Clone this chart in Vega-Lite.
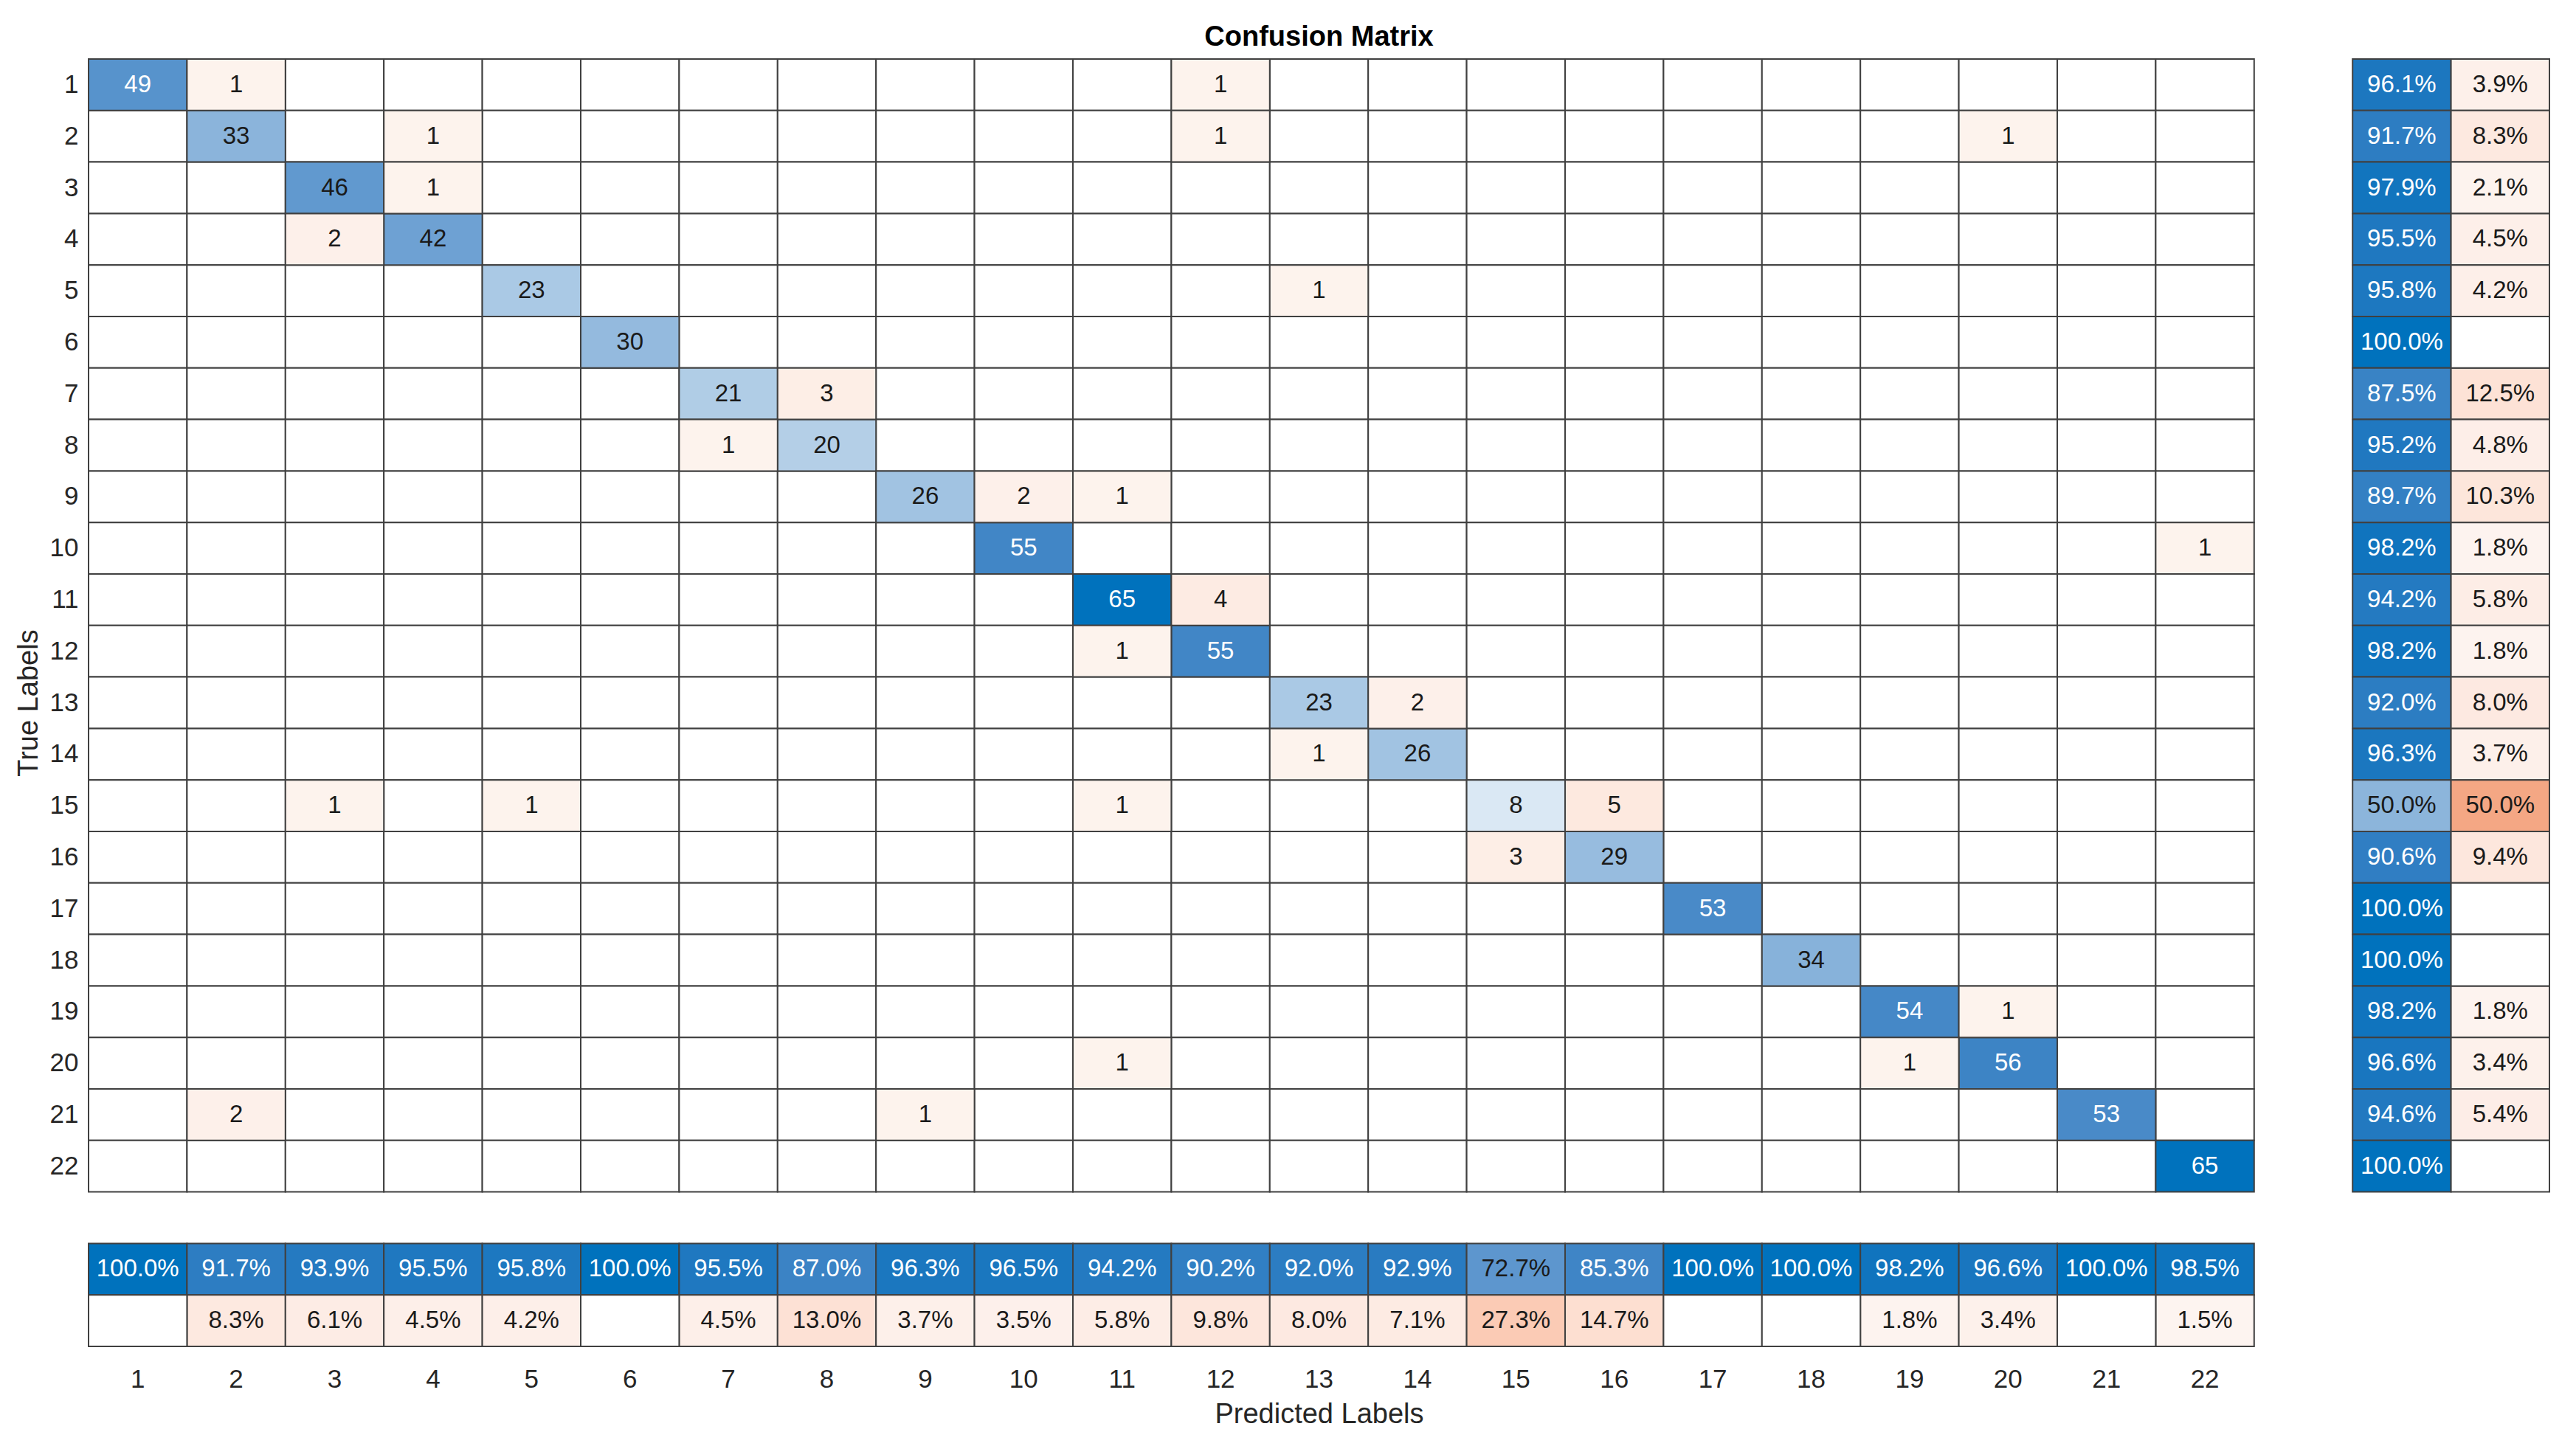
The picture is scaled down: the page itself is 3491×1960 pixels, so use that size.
{
"$schema": "https://vega.github.io/schema/vega-lite/v6.json",
"width": 3335, "height": 1745,
"autosize": {"type": "none"},
"padding": {"left": 120, "top": 80, "right": 36, "bottom": 135},
"background": "#ffffff",
"title": {"text": "Confusion Matrix", "font": "Liberation Sans", "fontSize": 38, "fontWeight": "bold", "color": "#000000", "anchor": "middle", "baseline": "alphabetic", "offset": 19, "dy": 40},
"datasets": {
"cells": [
{"y":"1","x":"1","n":49},{"y":"1","x":"2","n":1},{"y":"1","x":"3","n":0},{"y":"1","x":"4","n":0},{"y":"1","x":"5","n":0},{"y":"1","x":"6","n":0},{"y":"1","x":"7","n":0},{"y":"1","x":"8","n":0},{"y":"1","x":"9","n":0},{"y":"1","x":"10","n":0},{"y":"1","x":"11","n":0},{"y":"1","x":"12","n":1},{"y":"1","x":"13","n":0},{"y":"1","x":"14","n":0},{"y":"1","x":"15","n":0},{"y":"1","x":"16","n":0},{"y":"1","x":"17","n":0},{"y":"1","x":"18","n":0},{"y":"1","x":"19","n":0},{"y":"1","x":"20","n":0},{"y":"1","x":"21","n":0},{"y":"1","x":"22","n":0},
{"y":"2","x":"1","n":0},{"y":"2","x":"2","n":33},{"y":"2","x":"3","n":0},{"y":"2","x":"4","n":1},{"y":"2","x":"5","n":0},{"y":"2","x":"6","n":0},{"y":"2","x":"7","n":0},{"y":"2","x":"8","n":0},{"y":"2","x":"9","n":0},{"y":"2","x":"10","n":0},{"y":"2","x":"11","n":0},{"y":"2","x":"12","n":1},{"y":"2","x":"13","n":0},{"y":"2","x":"14","n":0},{"y":"2","x":"15","n":0},{"y":"2","x":"16","n":0},{"y":"2","x":"17","n":0},{"y":"2","x":"18","n":0},{"y":"2","x":"19","n":0},{"y":"2","x":"20","n":1},{"y":"2","x":"21","n":0},{"y":"2","x":"22","n":0},
{"y":"3","x":"1","n":0},{"y":"3","x":"2","n":0},{"y":"3","x":"3","n":46},{"y":"3","x":"4","n":1},{"y":"3","x":"5","n":0},{"y":"3","x":"6","n":0},{"y":"3","x":"7","n":0},{"y":"3","x":"8","n":0},{"y":"3","x":"9","n":0},{"y":"3","x":"10","n":0},{"y":"3","x":"11","n":0},{"y":"3","x":"12","n":0},{"y":"3","x":"13","n":0},{"y":"3","x":"14","n":0},{"y":"3","x":"15","n":0},{"y":"3","x":"16","n":0},{"y":"3","x":"17","n":0},{"y":"3","x":"18","n":0},{"y":"3","x":"19","n":0},{"y":"3","x":"20","n":0},{"y":"3","x":"21","n":0},{"y":"3","x":"22","n":0},
{"y":"4","x":"1","n":0},{"y":"4","x":"2","n":0},{"y":"4","x":"3","n":2},{"y":"4","x":"4","n":42},{"y":"4","x":"5","n":0},{"y":"4","x":"6","n":0},{"y":"4","x":"7","n":0},{"y":"4","x":"8","n":0},{"y":"4","x":"9","n":0},{"y":"4","x":"10","n":0},{"y":"4","x":"11","n":0},{"y":"4","x":"12","n":0},{"y":"4","x":"13","n":0},{"y":"4","x":"14","n":0},{"y":"4","x":"15","n":0},{"y":"4","x":"16","n":0},{"y":"4","x":"17","n":0},{"y":"4","x":"18","n":0},{"y":"4","x":"19","n":0},{"y":"4","x":"20","n":0},{"y":"4","x":"21","n":0},{"y":"4","x":"22","n":0},
{"y":"5","x":"1","n":0},{"y":"5","x":"2","n":0},{"y":"5","x":"3","n":0},{"y":"5","x":"4","n":0},{"y":"5","x":"5","n":23},{"y":"5","x":"6","n":0},{"y":"5","x":"7","n":0},{"y":"5","x":"8","n":0},{"y":"5","x":"9","n":0},{"y":"5","x":"10","n":0},{"y":"5","x":"11","n":0},{"y":"5","x":"12","n":0},{"y":"5","x":"13","n":1},{"y":"5","x":"14","n":0},{"y":"5","x":"15","n":0},{"y":"5","x":"16","n":0},{"y":"5","x":"17","n":0},{"y":"5","x":"18","n":0},{"y":"5","x":"19","n":0},{"y":"5","x":"20","n":0},{"y":"5","x":"21","n":0},{"y":"5","x":"22","n":0},
{"y":"6","x":"1","n":0},{"y":"6","x":"2","n":0},{"y":"6","x":"3","n":0},{"y":"6","x":"4","n":0},{"y":"6","x":"5","n":0},{"y":"6","x":"6","n":30},{"y":"6","x":"7","n":0},{"y":"6","x":"8","n":0},{"y":"6","x":"9","n":0},{"y":"6","x":"10","n":0},{"y":"6","x":"11","n":0},{"y":"6","x":"12","n":0},{"y":"6","x":"13","n":0},{"y":"6","x":"14","n":0},{"y":"6","x":"15","n":0},{"y":"6","x":"16","n":0},{"y":"6","x":"17","n":0},{"y":"6","x":"18","n":0},{"y":"6","x":"19","n":0},{"y":"6","x":"20","n":0},{"y":"6","x":"21","n":0},{"y":"6","x":"22","n":0},
{"y":"7","x":"1","n":0},{"y":"7","x":"2","n":0},{"y":"7","x":"3","n":0},{"y":"7","x":"4","n":0},{"y":"7","x":"5","n":0},{"y":"7","x":"6","n":0},{"y":"7","x":"7","n":21},{"y":"7","x":"8","n":3},{"y":"7","x":"9","n":0},{"y":"7","x":"10","n":0},{"y":"7","x":"11","n":0},{"y":"7","x":"12","n":0},{"y":"7","x":"13","n":0},{"y":"7","x":"14","n":0},{"y":"7","x":"15","n":0},{"y":"7","x":"16","n":0},{"y":"7","x":"17","n":0},{"y":"7","x":"18","n":0},{"y":"7","x":"19","n":0},{"y":"7","x":"20","n":0},{"y":"7","x":"21","n":0},{"y":"7","x":"22","n":0},
{"y":"8","x":"1","n":0},{"y":"8","x":"2","n":0},{"y":"8","x":"3","n":0},{"y":"8","x":"4","n":0},{"y":"8","x":"5","n":0},{"y":"8","x":"6","n":0},{"y":"8","x":"7","n":1},{"y":"8","x":"8","n":20},{"y":"8","x":"9","n":0},{"y":"8","x":"10","n":0},{"y":"8","x":"11","n":0},{"y":"8","x":"12","n":0},{"y":"8","x":"13","n":0},{"y":"8","x":"14","n":0},{"y":"8","x":"15","n":0},{"y":"8","x":"16","n":0},{"y":"8","x":"17","n":0},{"y":"8","x":"18","n":0},{"y":"8","x":"19","n":0},{"y":"8","x":"20","n":0},{"y":"8","x":"21","n":0},{"y":"8","x":"22","n":0},
{"y":"9","x":"1","n":0},{"y":"9","x":"2","n":0},{"y":"9","x":"3","n":0},{"y":"9","x":"4","n":0},{"y":"9","x":"5","n":0},{"y":"9","x":"6","n":0},{"y":"9","x":"7","n":0},{"y":"9","x":"8","n":0},{"y":"9","x":"9","n":26},{"y":"9","x":"10","n":2},{"y":"9","x":"11","n":1},{"y":"9","x":"12","n":0},{"y":"9","x":"13","n":0},{"y":"9","x":"14","n":0},{"y":"9","x":"15","n":0},{"y":"9","x":"16","n":0},{"y":"9","x":"17","n":0},{"y":"9","x":"18","n":0},{"y":"9","x":"19","n":0},{"y":"9","x":"20","n":0},{"y":"9","x":"21","n":0},{"y":"9","x":"22","n":0},
{"y":"10","x":"1","n":0},{"y":"10","x":"2","n":0},{"y":"10","x":"3","n":0},{"y":"10","x":"4","n":0},{"y":"10","x":"5","n":0},{"y":"10","x":"6","n":0},{"y":"10","x":"7","n":0},{"y":"10","x":"8","n":0},{"y":"10","x":"9","n":0},{"y":"10","x":"10","n":55},{"y":"10","x":"11","n":0},{"y":"10","x":"12","n":0},{"y":"10","x":"13","n":0},{"y":"10","x":"14","n":0},{"y":"10","x":"15","n":0},{"y":"10","x":"16","n":0},{"y":"10","x":"17","n":0},{"y":"10","x":"18","n":0},{"y":"10","x":"19","n":0},{"y":"10","x":"20","n":0},{"y":"10","x":"21","n":0},{"y":"10","x":"22","n":1},
{"y":"11","x":"1","n":0},{"y":"11","x":"2","n":0},{"y":"11","x":"3","n":0},{"y":"11","x":"4","n":0},{"y":"11","x":"5","n":0},{"y":"11","x":"6","n":0},{"y":"11","x":"7","n":0},{"y":"11","x":"8","n":0},{"y":"11","x":"9","n":0},{"y":"11","x":"10","n":0},{"y":"11","x":"11","n":65},{"y":"11","x":"12","n":4},{"y":"11","x":"13","n":0},{"y":"11","x":"14","n":0},{"y":"11","x":"15","n":0},{"y":"11","x":"16","n":0},{"y":"11","x":"17","n":0},{"y":"11","x":"18","n":0},{"y":"11","x":"19","n":0},{"y":"11","x":"20","n":0},{"y":"11","x":"21","n":0},{"y":"11","x":"22","n":0},
{"y":"12","x":"1","n":0},{"y":"12","x":"2","n":0},{"y":"12","x":"3","n":0},{"y":"12","x":"4","n":0},{"y":"12","x":"5","n":0},{"y":"12","x":"6","n":0},{"y":"12","x":"7","n":0},{"y":"12","x":"8","n":0},{"y":"12","x":"9","n":0},{"y":"12","x":"10","n":0},{"y":"12","x":"11","n":1},{"y":"12","x":"12","n":55},{"y":"12","x":"13","n":0},{"y":"12","x":"14","n":0},{"y":"12","x":"15","n":0},{"y":"12","x":"16","n":0},{"y":"12","x":"17","n":0},{"y":"12","x":"18","n":0},{"y":"12","x":"19","n":0},{"y":"12","x":"20","n":0},{"y":"12","x":"21","n":0},{"y":"12","x":"22","n":0},
{"y":"13","x":"1","n":0},{"y":"13","x":"2","n":0},{"y":"13","x":"3","n":0},{"y":"13","x":"4","n":0},{"y":"13","x":"5","n":0},{"y":"13","x":"6","n":0},{"y":"13","x":"7","n":0},{"y":"13","x":"8","n":0},{"y":"13","x":"9","n":0},{"y":"13","x":"10","n":0},{"y":"13","x":"11","n":0},{"y":"13","x":"12","n":0},{"y":"13","x":"13","n":23},{"y":"13","x":"14","n":2},{"y":"13","x":"15","n":0},{"y":"13","x":"16","n":0},{"y":"13","x":"17","n":0},{"y":"13","x":"18","n":0},{"y":"13","x":"19","n":0},{"y":"13","x":"20","n":0},{"y":"13","x":"21","n":0},{"y":"13","x":"22","n":0},
{"y":"14","x":"1","n":0},{"y":"14","x":"2","n":0},{"y":"14","x":"3","n":0},{"y":"14","x":"4","n":0},{"y":"14","x":"5","n":0},{"y":"14","x":"6","n":0},{"y":"14","x":"7","n":0},{"y":"14","x":"8","n":0},{"y":"14","x":"9","n":0},{"y":"14","x":"10","n":0},{"y":"14","x":"11","n":0},{"y":"14","x":"12","n":0},{"y":"14","x":"13","n":1},{"y":"14","x":"14","n":26},{"y":"14","x":"15","n":0},{"y":"14","x":"16","n":0},{"y":"14","x":"17","n":0},{"y":"14","x":"18","n":0},{"y":"14","x":"19","n":0},{"y":"14","x":"20","n":0},{"y":"14","x":"21","n":0},{"y":"14","x":"22","n":0},
{"y":"15","x":"1","n":0},{"y":"15","x":"2","n":0},{"y":"15","x":"3","n":1},{"y":"15","x":"4","n":0},{"y":"15","x":"5","n":1},{"y":"15","x":"6","n":0},{"y":"15","x":"7","n":0},{"y":"15","x":"8","n":0},{"y":"15","x":"9","n":0},{"y":"15","x":"10","n":0},{"y":"15","x":"11","n":1},{"y":"15","x":"12","n":0},{"y":"15","x":"13","n":0},{"y":"15","x":"14","n":0},{"y":"15","x":"15","n":8},{"y":"15","x":"16","n":5},{"y":"15","x":"17","n":0},{"y":"15","x":"18","n":0},{"y":"15","x":"19","n":0},{"y":"15","x":"20","n":0},{"y":"15","x":"21","n":0},{"y":"15","x":"22","n":0},
{"y":"16","x":"1","n":0},{"y":"16","x":"2","n":0},{"y":"16","x":"3","n":0},{"y":"16","x":"4","n":0},{"y":"16","x":"5","n":0},{"y":"16","x":"6","n":0},{"y":"16","x":"7","n":0},{"y":"16","x":"8","n":0},{"y":"16","x":"9","n":0},{"y":"16","x":"10","n":0},{"y":"16","x":"11","n":0},{"y":"16","x":"12","n":0},{"y":"16","x":"13","n":0},{"y":"16","x":"14","n":0},{"y":"16","x":"15","n":3},{"y":"16","x":"16","n":29},{"y":"16","x":"17","n":0},{"y":"16","x":"18","n":0},{"y":"16","x":"19","n":0},{"y":"16","x":"20","n":0},{"y":"16","x":"21","n":0},{"y":"16","x":"22","n":0},
{"y":"17","x":"1","n":0},{"y":"17","x":"2","n":0},{"y":"17","x":"3","n":0},{"y":"17","x":"4","n":0},{"y":"17","x":"5","n":0},{"y":"17","x":"6","n":0},{"y":"17","x":"7","n":0},{"y":"17","x":"8","n":0},{"y":"17","x":"9","n":0},{"y":"17","x":"10","n":0},{"y":"17","x":"11","n":0},{"y":"17","x":"12","n":0},{"y":"17","x":"13","n":0},{"y":"17","x":"14","n":0},{"y":"17","x":"15","n":0},{"y":"17","x":"16","n":0},{"y":"17","x":"17","n":53},{"y":"17","x":"18","n":0},{"y":"17","x":"19","n":0},{"y":"17","x":"20","n":0},{"y":"17","x":"21","n":0},{"y":"17","x":"22","n":0},
{"y":"18","x":"1","n":0},{"y":"18","x":"2","n":0},{"y":"18","x":"3","n":0},{"y":"18","x":"4","n":0},{"y":"18","x":"5","n":0},{"y":"18","x":"6","n":0},{"y":"18","x":"7","n":0},{"y":"18","x":"8","n":0},{"y":"18","x":"9","n":0},{"y":"18","x":"10","n":0},{"y":"18","x":"11","n":0},{"y":"18","x":"12","n":0},{"y":"18","x":"13","n":0},{"y":"18","x":"14","n":0},{"y":"18","x":"15","n":0},{"y":"18","x":"16","n":0},{"y":"18","x":"17","n":0},{"y":"18","x":"18","n":34},{"y":"18","x":"19","n":0},{"y":"18","x":"20","n":0},{"y":"18","x":"21","n":0},{"y":"18","x":"22","n":0},
{"y":"19","x":"1","n":0},{"y":"19","x":"2","n":0},{"y":"19","x":"3","n":0},{"y":"19","x":"4","n":0},{"y":"19","x":"5","n":0},{"y":"19","x":"6","n":0},{"y":"19","x":"7","n":0},{"y":"19","x":"8","n":0},{"y":"19","x":"9","n":0},{"y":"19","x":"10","n":0},{"y":"19","x":"11","n":0},{"y":"19","x":"12","n":0},{"y":"19","x":"13","n":0},{"y":"19","x":"14","n":0},{"y":"19","x":"15","n":0},{"y":"19","x":"16","n":0},{"y":"19","x":"17","n":0},{"y":"19","x":"18","n":0},{"y":"19","x":"19","n":54},{"y":"19","x":"20","n":1},{"y":"19","x":"21","n":0},{"y":"19","x":"22","n":0},
{"y":"20","x":"1","n":0},{"y":"20","x":"2","n":0},{"y":"20","x":"3","n":0},{"y":"20","x":"4","n":0},{"y":"20","x":"5","n":0},{"y":"20","x":"6","n":0},{"y":"20","x":"7","n":0},{"y":"20","x":"8","n":0},{"y":"20","x":"9","n":0},{"y":"20","x":"10","n":0},{"y":"20","x":"11","n":1},{"y":"20","x":"12","n":0},{"y":"20","x":"13","n":0},{"y":"20","x":"14","n":0},{"y":"20","x":"15","n":0},{"y":"20","x":"16","n":0},{"y":"20","x":"17","n":0},{"y":"20","x":"18","n":0},{"y":"20","x":"19","n":1},{"y":"20","x":"20","n":56},{"y":"20","x":"21","n":0},{"y":"20","x":"22","n":0},
{"y":"21","x":"1","n":0},{"y":"21","x":"2","n":2},{"y":"21","x":"3","n":0},{"y":"21","x":"4","n":0},{"y":"21","x":"5","n":0},{"y":"21","x":"6","n":0},{"y":"21","x":"7","n":0},{"y":"21","x":"8","n":0},{"y":"21","x":"9","n":1},{"y":"21","x":"10","n":0},{"y":"21","x":"11","n":0},{"y":"21","x":"12","n":0},{"y":"21","x":"13","n":0},{"y":"21","x":"14","n":0},{"y":"21","x":"15","n":0},{"y":"21","x":"16","n":0},{"y":"21","x":"17","n":0},{"y":"21","x":"18","n":0},{"y":"21","x":"19","n":0},{"y":"21","x":"20","n":0},{"y":"21","x":"21","n":53},{"y":"21","x":"22","n":0},
{"y":"22","x":"1","n":0},{"y":"22","x":"2","n":0},{"y":"22","x":"3","n":0},{"y":"22","x":"4","n":0},{"y":"22","x":"5","n":0},{"y":"22","x":"6","n":0},{"y":"22","x":"7","n":0},{"y":"22","x":"8","n":0},{"y":"22","x":"9","n":0},{"y":"22","x":"10","n":0},{"y":"22","x":"11","n":0},{"y":"22","x":"12","n":0},{"y":"22","x":"13","n":0},{"y":"22","x":"14","n":0},{"y":"22","x":"15","n":0},{"y":"22","x":"16","n":0},{"y":"22","x":"17","n":0},{"y":"22","x":"18","n":0},{"y":"22","x":"19","n":0},{"y":"22","x":"20","n":0},{"y":"22","x":"21","n":0},{"y":"22","x":"22","n":65}
],
"summ": [
{"x":"A","y":"1","v":0.961,"k":"pos"},{"x":"B","y":"1","v":0.039,"k":"neg"},
{"x":"A","y":"2","v":0.917,"k":"pos"},{"x":"B","y":"2","v":0.083,"k":"neg"},
{"x":"A","y":"3","v":0.979,"k":"pos"},{"x":"B","y":"3","v":0.021,"k":"neg"},
{"x":"A","y":"4","v":0.955,"k":"pos"},{"x":"B","y":"4","v":0.045,"k":"neg"},
{"x":"A","y":"5","v":0.958,"k":"pos"},{"x":"B","y":"5","v":0.042,"k":"neg"},
{"x":"A","y":"6","v":1.0,"k":"pos"},{"x":"B","y":"6","v":0,"k":"neg"},
{"x":"A","y":"7","v":0.875,"k":"pos"},{"x":"B","y":"7","v":0.125,"k":"neg"},
{"x":"A","y":"8","v":0.952,"k":"pos"},{"x":"B","y":"8","v":0.048,"k":"neg"},
{"x":"A","y":"9","v":0.897,"k":"pos"},{"x":"B","y":"9","v":0.103,"k":"neg"},
{"x":"A","y":"10","v":0.982,"k":"pos"},{"x":"B","y":"10","v":0.018,"k":"neg"},
{"x":"A","y":"11","v":0.942,"k":"pos"},{"x":"B","y":"11","v":0.058,"k":"neg"},
{"x":"A","y":"12","v":0.982,"k":"pos"},{"x":"B","y":"12","v":0.018,"k":"neg"},
{"x":"A","y":"13","v":0.920,"k":"pos"},{"x":"B","y":"13","v":0.080,"k":"neg"},
{"x":"A","y":"14","v":0.963,"k":"pos"},{"x":"B","y":"14","v":0.037,"k":"neg"},
{"x":"A","y":"15","v":0.500,"k":"pos"},{"x":"B","y":"15","v":0.500,"k":"neg"},
{"x":"A","y":"16","v":0.906,"k":"pos"},{"x":"B","y":"16","v":0.094,"k":"neg"},
{"x":"A","y":"17","v":1.0,"k":"pos"},{"x":"B","y":"17","v":0,"k":"neg"},
{"x":"A","y":"18","v":1.0,"k":"pos"},{"x":"B","y":"18","v":0,"k":"neg"},
{"x":"A","y":"19","v":0.982,"k":"pos"},{"x":"B","y":"19","v":0.018,"k":"neg"},
{"x":"A","y":"20","v":0.966,"k":"pos"},{"x":"B","y":"20","v":0.034,"k":"neg"},
{"x":"A","y":"21","v":0.946,"k":"pos"},{"x":"B","y":"21","v":0.054,"k":"neg"},
{"x":"A","y":"22","v":1.0,"k":"pos"},{"x":"B","y":"22","v":0,"k":"neg"},
{"x":"1","y":"A","v":1.0,"k":"pos"},{"x":"1","y":"B","v":0,"k":"neg"},
{"x":"2","y":"A","v":0.917,"k":"pos"},{"x":"2","y":"B","v":0.083,"k":"neg"},
{"x":"3","y":"A","v":0.939,"k":"pos"},{"x":"3","y":"B","v":0.061,"k":"neg"},
{"x":"4","y":"A","v":0.955,"k":"pos"},{"x":"4","y":"B","v":0.045,"k":"neg"},
{"x":"5","y":"A","v":0.958,"k":"pos"},{"x":"5","y":"B","v":0.042,"k":"neg"},
{"x":"6","y":"A","v":1.0,"k":"pos"},{"x":"6","y":"B","v":0,"k":"neg"},
{"x":"7","y":"A","v":0.955,"k":"pos"},{"x":"7","y":"B","v":0.045,"k":"neg"},
{"x":"8","y":"A","v":0.870,"k":"pos"},{"x":"8","y":"B","v":0.130,"k":"neg"},
{"x":"9","y":"A","v":0.963,"k":"pos"},{"x":"9","y":"B","v":0.037,"k":"neg"},
{"x":"10","y":"A","v":0.965,"k":"pos"},{"x":"10","y":"B","v":0.035,"k":"neg"},
{"x":"11","y":"A","v":0.942,"k":"pos"},{"x":"11","y":"B","v":0.058,"k":"neg"},
{"x":"12","y":"A","v":0.902,"k":"pos"},{"x":"12","y":"B","v":0.098,"k":"neg"},
{"x":"13","y":"A","v":0.920,"k":"pos"},{"x":"13","y":"B","v":0.080,"k":"neg"},
{"x":"14","y":"A","v":0.929,"k":"pos"},{"x":"14","y":"B","v":0.071,"k":"neg"},
{"x":"15","y":"A","v":0.727,"k":"pos"},{"x":"15","y":"B","v":0.273,"k":"neg"},
{"x":"16","y":"A","v":0.853,"k":"pos"},{"x":"16","y":"B","v":0.147,"k":"neg"},
{"x":"17","y":"A","v":1.0,"k":"pos"},{"x":"17","y":"B","v":0,"k":"neg"},
{"x":"18","y":"A","v":1.0,"k":"pos"},{"x":"18","y":"B","v":0,"k":"neg"},
{"x":"19","y":"A","v":0.982,"k":"pos"},{"x":"19","y":"B","v":0.018,"k":"neg"},
{"x":"20","y":"A","v":0.966,"k":"pos"},{"x":"20","y":"B","v":0.034,"k":"neg"},
{"x":"21","y":"A","v":1.0,"k":"pos"},{"x":"21","y":"B","v":0,"k":"neg"},
{"x":"22","y":"A","v":0.985,"k":"pos"},{"x":"22","y":"B","v":0.015,"k":"neg"}
]
},
"encoding": {
"x": {"field": "x", "type": "ordinal",
 "scale": {"domain": ["1","2","3","4","5","6","7","8","9","10","11","12","13","14","15","16","17","18","19","20","21","22","g","A","B"], "paddingInner": 0, "paddingOuter": 0},
 "axis": {"orient": "bottom", "title": "Predicted Labels", "values": ["1","2","3","4","5","6","7","8","9","10","11","12","13","14","15","16","17","18","19","20","21","22"], "labelAngle": 0, "labelOverlap": false, "domain": false, "ticks": false, "tickSize": 0, "grid": false, "labelFont": "Liberation Sans", "labelFontSize": 35, "labelColor": "#262626", "labelPadding": 27, "titleFont": "Liberation Sans", "titleFontSize": 38, "titleFontWeight": "normal", "titleColor": "#262626", "titlePadding": 11}},
"y": {"field": "y", "type": "ordinal",
 "scale": {"domain": ["1","2","3","4","5","6","7","8","9","10","11","12","13","14","15","16","17","18","19","20","21","22","g","A","B"], "paddingInner": 0, "paddingOuter": 0},
 "axis": {"orient": "left", "title": "True Labels", "values": ["1","2","3","4","5","6","7","8","9","10","11","12","13","14","15","16","17","18","19","20","21","22"], "labelOverlap": false, "domain": false, "ticks": false, "tickSize": 0, "grid": false, "labelFont": "Liberation Sans", "labelFontSize": 35, "labelColor": "#262626", "labelPadding": 14, "titleFont": "Liberation Sans", "titleFontSize": 38, "titleFontWeight": "normal", "titleColor": "#262626", "titlePadding": 9}}
},
"layer": [
{"data": {"name": "cells"}, "transform": [{"filter": "datum.n === 0"}],
 "mark": {"type": "rect", "fill": "#ffffff", "stroke": "#404040", "strokeWidth": 2}},
{"data": {"name": "cells"}, "transform": [{"filter": "datum.x === datum.y"}],
 "mark": {"type": "rect", "stroke": "#404040", "strokeWidth": 2, "opacity": 1},
 "encoding": {"color": {"field": "n", "type": "quantitative", "scale": {"domain": [0, 65], "range": ["#F5F9FC", "#0072BD"]}, "legend": null}}},
{"data": {"name": "cells"}, "transform": [{"filter": "datum.x !== datum.y && datum.n > 0"}],
 "mark": {"type": "rect", "stroke": "#404040", "strokeWidth": 2, "opacity": 1},
 "encoding": {"color": {"field": "n", "type": "quantitative", "scale": {"domain": [0, 65], "range": ["#FDF5F1", "#D95319"]}, "legend": null}}},
{"data": {"name": "cells"}, "transform": [{"filter": "datum.n > 0"}],
 "mark": {"type": "text", "font": "Liberation Sans", "fontSize": 33, "baseline": "middle", "align": "center"},
 "encoding": {"text": {"field": "n", "type": "quantitative"},
  "color": {"condition": {"test": "datum.n >= 48", "value": "#ffffff"}, "value": "#1a1a1a"}}},
{"data": {"name": "summ"}, "transform": [{"filter": "datum.k === 'pos'"}],
 "mark": {"type": "rect", "stroke": "#404040", "strokeWidth": 2, "opacity": 1},
 "encoding": {"color": {"field": "v", "type": "quantitative", "scale": {"domain": [0, 1], "range": ["#F5F9FC", "#0072BD"]}, "legend": null}}},
{"data": {"name": "summ"}, "transform": [{"filter": "datum.k === 'neg' && datum.v > 0"}],
 "mark": {"type": "rect", "stroke": "#404040", "strokeWidth": 2, "opacity": 1},
 "encoding": {"color": {"field": "v", "type": "quantitative", "scale": {"domain": [0, 1], "range": ["#FDF6F3", "#D95319"]}, "legend": null}}},
{"data": {"name": "summ"}, "transform": [{"filter": "datum.k === 'neg' && datum.v === 0"}],
 "mark": {"type": "rect", "fill": "#ffffff", "stroke": "#404040", "strokeWidth": 2}},
{"data": {"name": "summ"}, "transform": [{"filter": "datum.v > 0"}],
 "mark": {"type": "text", "font": "Liberation Sans", "fontSize": 33, "baseline": "middle", "align": "center"},
 "encoding": {"text": {"field": "v", "type": "quantitative", "format": ".1%"},
  "color": {"condition": {"test": "datum.v >= 0.74", "value": "#ffffff"}, "value": "#1a1a1a"}}}
],
"resolve": {"scale": {"color": "independent"}},
"config": {"view": {"stroke": null}}
}
